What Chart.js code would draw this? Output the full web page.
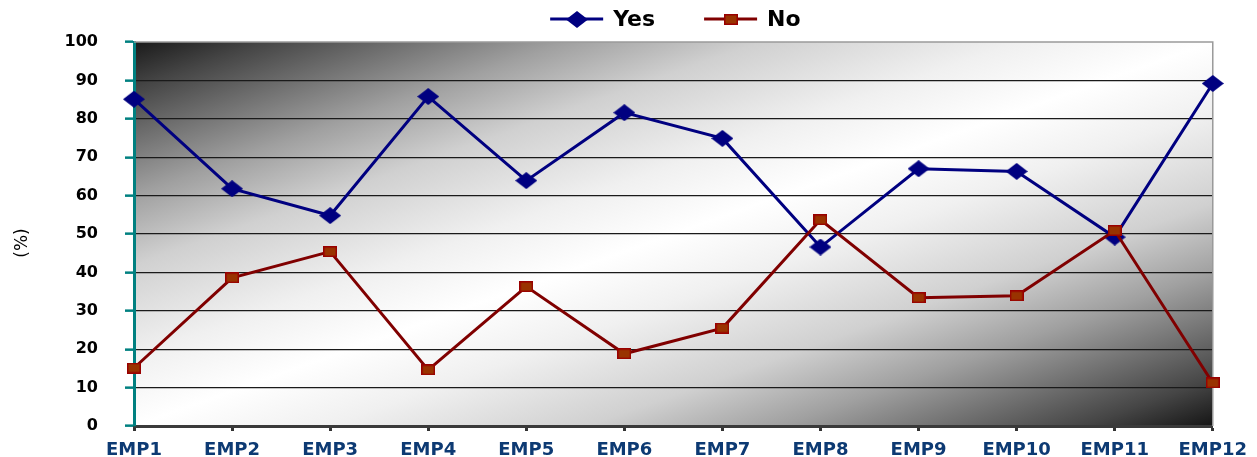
<!DOCTYPE html>
<html>
<head>
<meta charset="utf-8">
<script src="https://cdn.jsdelivr.net/npm/chart.js@4.4.1/dist/chart.umd.min.js"></script>
<style>
html,body{margin:0;padding:0;background:#fff;overflow:hidden;}
#wrap{width:1257px;height:457px;overflow:hidden;}
canvas{display:block;}
</style>
</head>
<body>
<div id="wrap"><canvas id="c" width="1257" height="457"></canvas></div>
<script>
const categories = ['EMP1','EMP2','EMP3','EMP4','EMP5','EMP6','EMP7','EMP8','EMP9','EMP10','EMP11','EMP12'];
const yesValues = [85.1, 61.8, 54.8, 85.8, 63.9, 81.6, 74.9, 46.6, 67.0, 66.3, 49.2, 89.2];
const noValues  = [15.1, 38.6, 45.4, 14.6, 36.3, 18.8, 25.5, 53.7, 33.4, 33.9, 50.9, 11.2];
const seriesNames = ['Yes', 'No'];
const yMin = 0, yMax = 100, yStep = 10;
const yAxisTitle = '(%)';

const FONT = "'DejaVu Sans', 'Liberation Sans', Arial, sans-serif";

function makeDiamond() {
  const c = document.createElement('canvas');
  c.width = 22; c.height = 17;
  const g = c.getContext('2d');
  g.fillStyle = '#000080';
  g.beginPath();
  g.moveTo(0, 8.5); g.lineTo(11, 0); g.lineTo(22, 8.5); g.lineTo(11, 17); g.closePath();
  g.fill();
  return c;
}
function makeSquare() {
  const c = document.createElement('canvas');
  c.width = 14; c.height = 11;
  const g = c.getContext('2d');
  g.fillStyle = '#993300';
  g.fillRect(0, 0, 14, 11);
  g.strokeStyle = '#990000';
  g.lineWidth = 1.5;
  g.strokeRect(0.75, 0.75, 12.5, 9.5);
  return c;
}
const diamondImg = makeDiamond();
const squareImg = makeSquare();

const bgPlugin = {
  id: 'bg',
  beforeDraw(chart) {
    const {ctx, chartArea: a} = chart;
    ctx.save();
    ctx.translate(a.left, a.top);
    ctx.scale(a.right - a.left, a.bottom - a.top);
    const g = ctx.createLinearGradient(0, 0, 1, 1);
    g.addColorStop(0, '#1a1a1a');
    g.addColorStop(0.06, '#454545');
    g.addColorStop(0.2, '#a0a0a0');
    g.addColorStop(0.29, '#d0d0d0');
    g.addColorStop(0.41, '#f0f0f0');
    g.addColorStop(0.5, '#ffffff');
    g.addColorStop(0.59, '#f0f0f0');
    g.addColorStop(0.71, '#d0d0d0');
    g.addColorStop(0.8, '#a0a0a0');
    g.addColorStop(0.94, '#454545');
    g.addColorStop(1, '#151515');
    ctx.fillStyle = g;
    ctx.fillRect(0, 0, 1, 1);
    ctx.restore();
  },
  beforeDatasetsDraw(chart) {
    const {ctx, chartArea: a} = chart;
    ctx.save();
    ctx.strokeStyle = '#9a9a9a';
    ctx.lineWidth = 1.5;
    ctx.beginPath();
    ctx.moveTo(a.left, a.top);
    ctx.lineTo(a.right, a.top);
    ctx.lineTo(a.right, a.bottom);
    ctx.stroke();
    ctx.restore();
  },
  afterDraw(chart) {
    const {ctx, chartArea: a} = chart;
    ctx.save();
    ctx.translate(23, 243);
    ctx.rotate(-Math.PI / 2);
    ctx.font = 'normal 17px ' + FONT;
    ctx.fillStyle = '#000';
    ctx.textAlign = 'center';
    ctx.textBaseline = 'middle';
    ctx.fillText(yAxisTitle, 0, 0);
    ctx.restore();

    ctx.save();
    ctx.font = 'bold 22px ' + FONT;
    ctx.textBaseline = 'middle';
    const y = 19;
    const lineLen = 53, gapText = 10, gapItem = 49;
    const items = [
      {name: seriesNames[0], color: '#000080', img: diamondImg},
      {name: seriesNames[1], color: '#800000', img: squareImg}
    ];
    let total = 0;
    items.forEach((it, i) => {
      it.w = ctx.measureText(it.name).width;
      total += lineLen + gapText + it.w + (i ? gapItem : 0);
    });
    let x = (a.left + a.right) / 2 - total / 2 + 2;
    items.forEach((it, i) => {
      if (i) x += gapItem;
      ctx.strokeStyle = it.color;
      ctx.lineWidth = 3;
      ctx.beginPath();
      ctx.moveTo(x, y); ctx.lineTo(x + lineLen, y);
      ctx.stroke();
      ctx.drawImage(it.img, Math.round(x + lineLen / 2 - it.img.width / 2), Math.round(y - it.img.height / 2));
      x += lineLen + gapText;
      ctx.fillStyle = '#000';
      ctx.fillText(it.name, x, y + 1);
      x += it.w;
    });
    ctx.restore();
  }
};

new Chart(document.getElementById('c'), {
  type: 'line',
  data: {
    labels: categories,
    datasets: [
      {
        label: seriesNames[0],
        data: yesValues,
        borderColor: '#000080',
        backgroundColor: '#000080',
        borderWidth: 3,
        pointStyle: diamondImg,
        tension: 0,
        clip: false,
        order: 2
      },
      {
        label: seriesNames[1],
        data: noValues,
        borderColor: '#800000',
        backgroundColor: '#993300',
        borderWidth: 3,
        pointStyle: squareImg,
        tension: 0,
        clip: false,
        order: 1
      }
    ]
  },
  options: {
    responsive: false,
    animation: false,
    devicePixelRatio: 1,
    layout: { padding: { top: 42, right: 44, bottom: 0, left: 0 } },
    plugins: { legend: { display: false }, tooltip: { enabled: false } },
    scales: {
      x: {
        type: 'category',
        offset: false,
        afterFit(s) { s.height = 31; },
        grid: { drawOnChartArea: false, tickLength: 5, tickColor: '#333333', tickWidth: 3 },
        border: { color: '#3a3a3a', width: 3 },
        ticks: {
          color: '#0d3a73',
          font: { family: FONT, size: 18, weight: 'bold', lineHeight: 1.0 },
          padding: 10,
          maxRotation: 0,
          autoSkip: false
        }
      },
      y: {
        min: yMin, max: yMax,
        afterFit(s) { s.width = 134; s.paddingTop = 0; s.paddingBottom = 0; },
        grid: {
          color: (c) => (c.tick && (c.tick.value === yMax || c.tick.value === yMin)) ? 'rgba(0,0,0,0)' : '#1a1a1a',
          lineWidth: 1.3,
          tickColor: '#008080',
          tickLength: 9,
          tickWidth: 2.5
        },
        border: { color: '#008080', width: 3 },
        ticks: {
          stepSize: yStep,
          color: '#000000',
          font: { family: FONT, size: 16, weight: 'bold' },
          padding: 27
        },
        title: { display: false }
      }
    }
  },
  plugins: [bgPlugin]
});
</script>
</body>
</html>
